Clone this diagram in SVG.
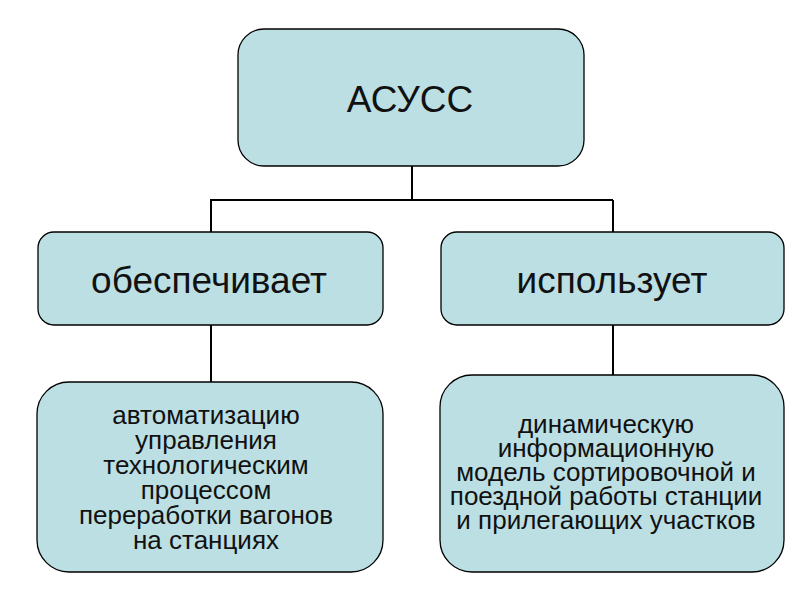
<svg xmlns="http://www.w3.org/2000/svg" width="800" height="600" viewBox="0 0 800 600">
<style>
.box{fill:#bcdfe3;stroke:#000;stroke-width:1.3}
.t{font-family:"Liberation Sans",Arial,sans-serif;fill:#111;text-anchor:middle}
.big{font-size:37px}
.small{font-size:26px}
.line{stroke:#000;stroke-width:2;fill:none}
</style>
<rect width="800" height="600" fill="#fff"/>
<g id="connectors">
<path class="line" d="M412 166 V200 M210 200 H613 M211 200 V232 M613 200 V232 M211 325 V382 M613 325 V375"/>
</g>
<g id="asuss">
<rect class="box" x="238" y="29" width="346" height="137" rx="26"/>
<text class="t big" x="410" y="112">АСУСС</text>
</g>
<g id="obespechivaet">
<rect class="box" x="38" y="232" width="345" height="93" rx="16"/>
<text class="t big" x="209" y="293">обеспечивает</text>
</g>
<g id="ispolzuet">
<rect class="box" x="441" y="232" width="343" height="93" rx="16"/>
<text class="t big" x="612" y="293">использует</text>
</g>
<g id="avtomatizatsiyu">
<rect class="box" x="37" y="382" width="346" height="190" rx="32"/>
<text class="t small" x="206" y="424">автоматизацию</text>
<text class="t small" x="206" y="449">управления</text>
<text class="t small" x="206" y="474">технологическим</text>
<text class="t small" x="206" y="499">процессом</text>
<text class="t small" x="206" y="524">переработки вагонов</text>
<text class="t small" x="206" y="549">на станциях</text>
</g>
<g id="dinamicheskuyu">
<rect class="box" x="440" y="375" width="344" height="197" rx="32"/>
<text class="t small" x="606" y="433">динамическую</text>
<text class="t small" x="606" y="457">информационную</text>
<text class="t small" x="606" y="481">модель сортировочной и</text>
<text class="t small" x="606" y="505">поездной работы станции</text>
<text class="t small" x="606" y="529">и прилегающих участков</text>
</g>
</svg>
